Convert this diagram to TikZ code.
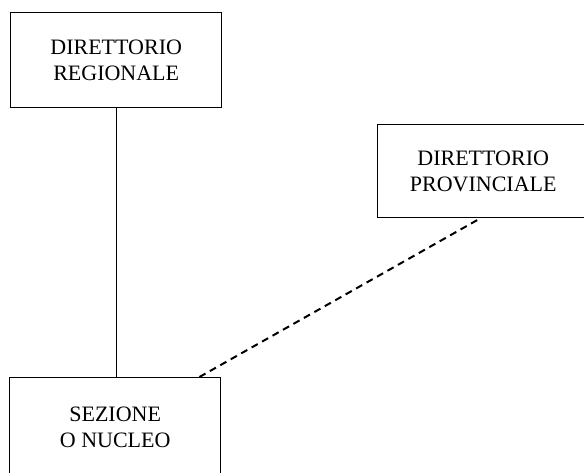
\documentclass[tikz,border=0pt]{standalone}
\usepackage{fontspec}
\setmainfont{Liberation Serif}
\usetikzlibrary{positioning}
\begin{document}
\begin{tikzpicture}[x=0.5pt,y=-0.5pt,
  % boxes of the party structure; sizes in pt, placed by their north west corner
  org/.style={draw, line width=0.7pt, minimum width=105.5pt, minimum height=47.5pt,
              align=center, anchor=north west, font=\fontsize{11}{13}\selectfont},
  % relationships
  dip/.style={line width=0.7pt},                          % direct dependence
  coll/.style={line width=1pt, dash pattern=on 3.5pt off 2.5pt}, % collaboration
  ]
  % ---- page frame (boxes run off the right and bottom edges) ----------------
  \clip (0,0) rectangle (584,472);
  % ---- boxes -----------------------------------------------------------------
  \node[org] (regionale)   at (10,12)  {DIRETTORIO\\REGIONALE};
  \node[org] (provinciale) at (377,124) [minimum height=46.5pt] {DIRETTORIO\\PROVINCIALE};
  \node[org] (sezione)     at (9,377)  [minimum height=50pt] {SEZIONE\\O NUCLEO};
  % ---- links -----------------------------------------------------------------
  \draw[dip]  (regionale.south) -- (regionale.south |- sezione.north);
  \draw[coll] ([xshift=-11pt]sezione.north east) -- ([xshift=-1.5pt]provinciale.south);
\end{tikzpicture}
\end{document}
